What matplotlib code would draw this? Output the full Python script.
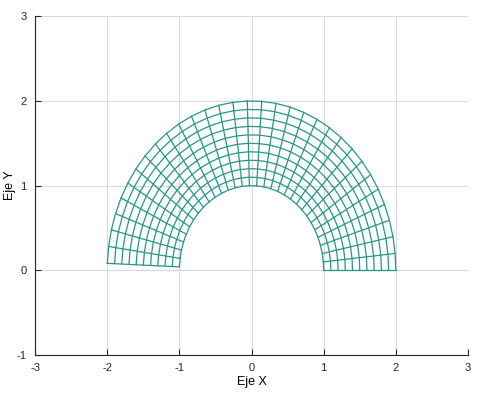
import matplotlib
matplotlib.use("Agg")
import matplotlib.pyplot as plt
import numpy as np

# polar mesh: radii and angles
r_vals = [1.0, 1.1, 1.2, 1.3, 1.4, 1.5, 1.6, 1.7, 1.8, 1.9, 2.0]
theta_vals = [0.0, 0.1, 0.2, 0.3, 0.4, 0.5, 0.6, 0.7, 0.8, 0.9,
              1.0, 1.1, 1.2, 1.3, 1.4, 1.5, 1.6, 1.7, 1.8, 1.9,
              2.0, 2.1, 2.2, 2.3, 2.4, 2.5, 2.6, 2.7, 2.8, 2.9,
              3.0, 3.1]
xticks = [-3, -2, -1, 0, 1, 2, 3]
yticks = [-1, 0, 1, 2, 3]


def main():
    plt.rcParams['font.family'] = ['Liberation Sans', 'DejaVu Sans']
    plt.rcParams['axes.unicode_minus'] = False
    mesh_color = "#26968c"

    fig = plt.figure(figsize=(4.8, 3.95), dpi=100)
    ax = fig.add_axes([0.073, 0.101, 0.902, 0.858])

    R, T = np.meshgrid(np.array(r_vals), np.array(theta_vals))
    X = R * np.cos(T)
    Y = R * np.sin(T)

    # arcs (constant r) and radial lines (constant theta)
    for j in range(X.shape[1]):
        ax.plot(X[:, j], Y[:, j], color=mesh_color, linewidth=0.9)
    for i in range(X.shape[0]):
        ax.plot(X[i, :], Y[i, :], color=mesh_color, linewidth=0.9)

    ax.set_xlim(-3, 3)
    ax.set_ylim(-1, 3)
    ax.set_xticks(xticks)
    ax.set_yticks(yticks)
    ax.grid(color='#d9d9d9', linewidth=0.8)
    ax.set_axisbelow(True)
    for side in ['top', 'right']:
        ax.spines[side].set_visible(False)
    for side in ['left', 'bottom']:
        ax.spines[side].set_color('#262626')
        ax.spines[side].set_linewidth(0.8)
    ax.tick_params(direction='in', length=4, width=0.8, labelsize=8,
                   colors='#262626', pad=6)
    ax.set_xlabel("Eje X", fontsize=9, va='center')
    ax.set_ylabel("Eje Y", fontsize=9, va='center')
    ax.xaxis.set_label_coords(0.5, -0.078)
    ax.yaxis.set_label_coords(-0.058, 0.5)

    fig.savefig("out.png", dpi=100)


if __name__ == "__main__":
    main()
